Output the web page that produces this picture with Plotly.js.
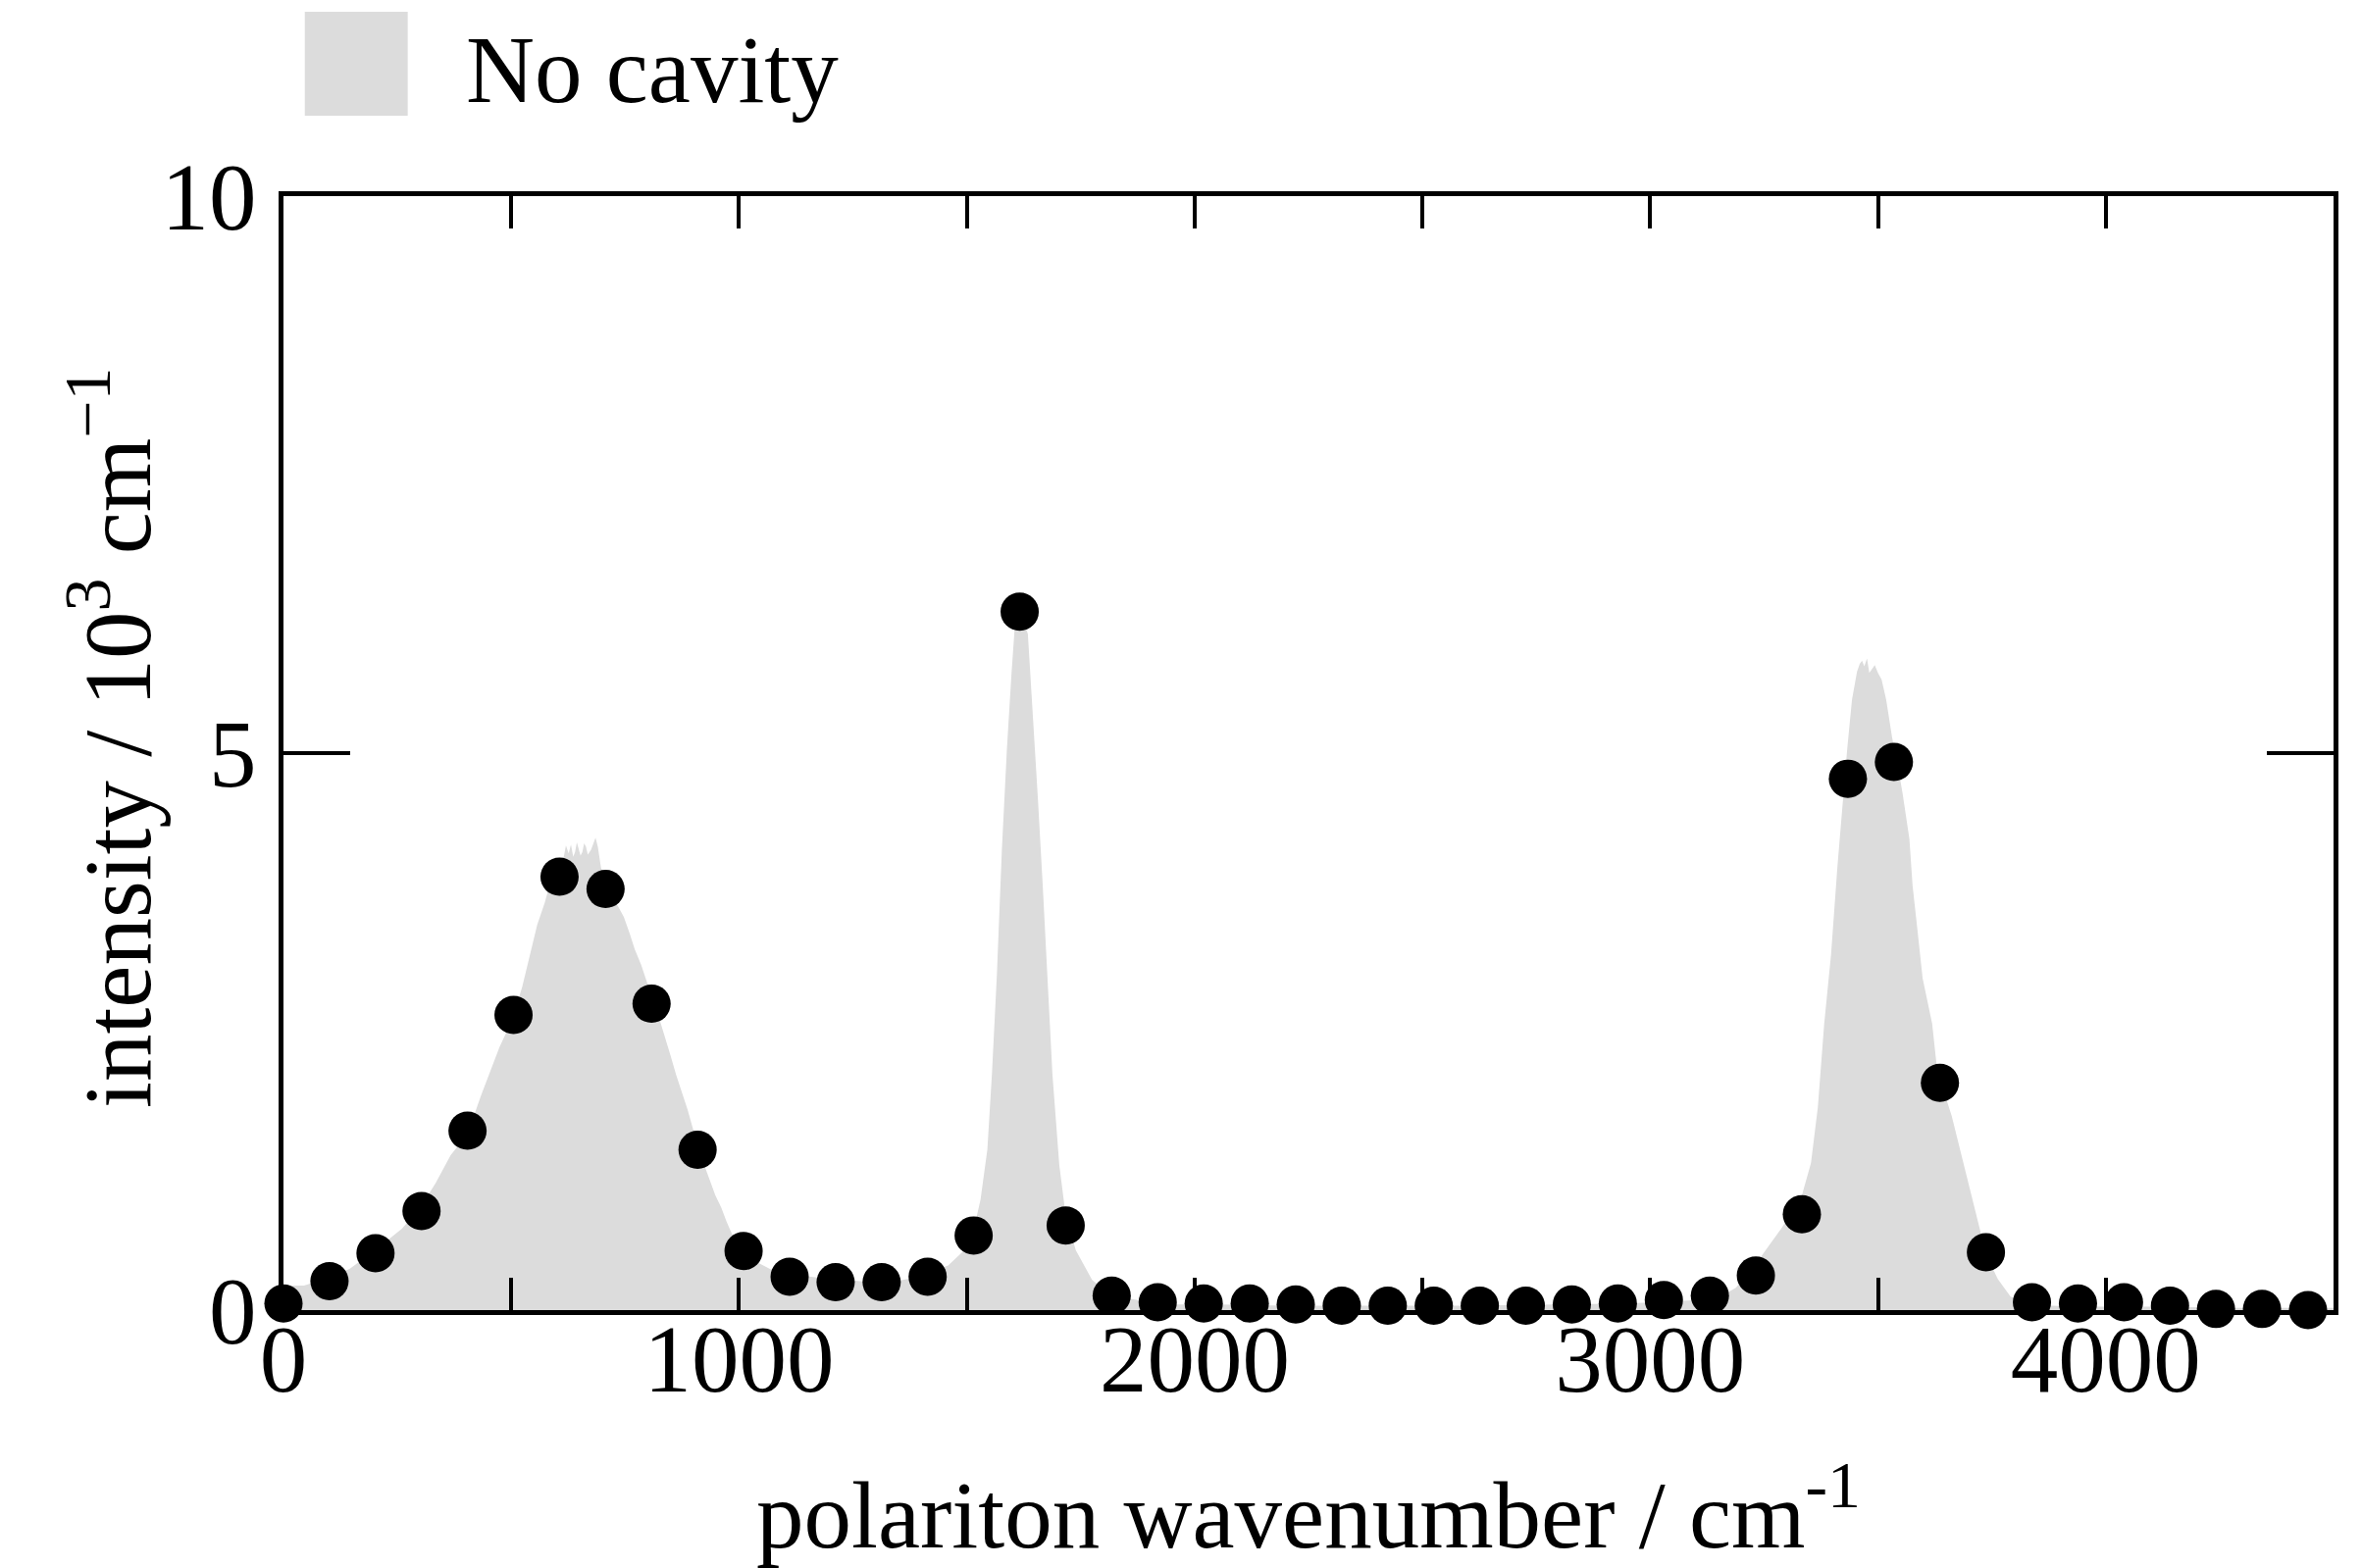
<!DOCTYPE html>
<html>
<head>
<meta charset="utf-8">
<script src="https://cdn.plot.ly/plotly-3.0.1.min.js"></script>
<style>html,body{margin:0;padding:0;background:#fff;}#chart{width:2407px;height:1599px;}</style>
</head>
<body>
<div id="chart"></div>
<script>
// "No cavity" reference spectrum (wavenumber / cm^-1, intensity / 10^3 cm^-1)
var spectrumX = [
  0, 45, 100, 145, 202, 260, 300, 334, 367, 404,
  433, 454, 474, 490, 505, 524, 540, 557, 573, 590,
  600, 606, 612, 620, 626, 631, 636, 640, 644, 648,
  652, 656, 660, 664, 668, 675, 680, 685, 690, 697,
  705, 720, 735, 747, 760, 771, 785, 796, 808, 818,
  828, 838, 850, 862, 875, 887, 898, 909, 922, 936,
  948, 961, 973, 986, 998, 1011, 1044, 1077, 1134, 1176,
  1217, 1266,
  1315, 1387, 1459, 1495, 1515, 1530, 1545, 1555, 1566, 1577,
  1588, 1598, 1605, 1611, 1616, 1622, 1628, 1634, 1645, 1656,
  1667, 1677, 1688, 1703, 1717, 1739, 1775, 1818, 1875, 1947,
  2050, 2200, 2400, 2600, 2800, 2950, 3050, 3100, 3145, 3188,
  3231, 3289, 3333, 3353, 3368, 3382, 3397, 3411, 3422, 3433,
  3443, 3454, 3460, 3465, 3470, 3476, 3481, 3486, 3493, 3500,
  3508, 3518, 3531, 3543, 3554, 3569, 3576, 3587, 3598, 3619,
  3630, 3662, 3687, 3712, 3738, 3763, 3791, 3827, 3880, 3950,
  4100, 4300, 4500
];
var spectrumY = [
  0.22, 0.22, 0.29, 0.37, 0.54, 0.73, 0.92, 1.14, 1.39, 1.58,
  1.92, 2.14, 2.36, 2.50, 2.65, 2.90, 3.18, 3.46, 3.65, 3.90,
  3.95, 4.06, 4.00, 4.17, 4.10, 4.18, 4.07, 4.11, 4.20, 4.14,
  4.08, 4.11, 4.19, 4.16, 4.09, 4.13, 4.18, 4.24, 4.16, 3.97,
  3.88, 3.72, 3.62, 3.53, 3.38, 3.24, 3.10, 2.96, 2.82, 2.71,
  2.58, 2.43, 2.28, 2.11, 1.95, 1.80, 1.64, 1.48, 1.32, 1.17,
  1.03, 0.92, 0.79, 0.67, 0.58, 0.51, 0.42, 0.35, 0.31, 0.29,
  0.28, 0.26,
  0.24, 0.29, 0.40, 0.54, 0.72, 0.99, 1.44, 2.11, 3.01, 4.14,
  5.04, 5.71, 6.12, 6.20, 6.22, 6.18, 6.14, 6.07, 5.35, 4.59,
  3.78, 2.92, 2.11, 1.30, 0.85, 0.54, 0.27, 0.13, 0.09, 0.05,
  0.05, 0.04, 0.04, 0.04, 0.05, 0.06, 0.08, 0.09, 0.10, 0.20,
  0.41, 0.74, 1.03, 1.32, 1.82, 2.57, 3.19, 3.98, 4.56, 5.06,
  5.48, 5.73, 5.80, 5.83, 5.78, 5.85, 5.72, 5.75, 5.79, 5.72,
  5.66, 5.48, 5.14, 4.90, 4.64, 4.23, 3.81, 3.40, 2.98, 2.57,
  2.15, 1.74, 1.32, 0.91, 0.49, 0.28, 0.12, 0.06, 0.04, 0.03,
  0.03, 0.02, 0.02
];

// Cavity (polariton) intensities
var cavityX = [
  0, 101, 202, 303, 404, 505, 606, 707, 808, 909,
  1010, 1111, 1212, 1313, 1414, 1515, 1616, 1717, 1818, 1919,
  2020, 2121, 2222, 2323, 2424, 2525, 2626, 2727, 2828, 2929,
  3030, 3131, 3232, 3333, 3434, 3535, 3636, 3737, 3838, 3939,
  4040, 4141, 4242, 4343, 4444
];
var cavityY = [
  0.06, 0.26, 0.51, 0.89, 1.61, 2.65, 3.89, 3.78, 2.75, 1.44,
  0.53, 0.30, 0.25, 0.25, 0.30, 0.67, 6.27, 0.76, 0.13, 0.07,
  0.06, 0.06, 0.05, 0.04, 0.04, 0.04, 0.04, 0.04, 0.05, 0.06,
  0.09, 0.13, 0.31, 0.86, 4.77, 4.92, 2.04, 0.52, 0.07, 0.06,
  0.07, 0.04, 0.01, 0.01, 0.00
];

var xTickVals = [0, 1000, 2000, 3000, 4000];
var xTickText = ['0', '1000', '2000', '3000', '4000'];
var yTickVals = [0, 5, 10];
var yTickText = ['0', '5', '10'];

var legendLabel = 'No cavity';
var xTitle = 'polariton wavenumber / cm<sup>-1</sup>';
var yTitle = 'intensity / 10<sup>3</sup> cm<sup>\u22121</sup>';
var FONT = '"Liberation Serif", "Times New Roman", Times, serif';

var traces = [
  {
    type: 'scatter', mode: 'lines', name: legendLabel,
    x: spectrumX, y: spectrumY,
    fill: 'tozeroy', fillcolor: '#dcdcdc',
    line: {width: 0, color: '#dcdcdc'},
    showlegend: false, hoverinfo: 'skip'
  },
  {
    type: 'scatter', mode: 'markers', name: 'cavity',
    x: cavityX, y: cavityY,
    marker: {size: 39, color: '#000000'},
    cliponaxis: false, showlegend: false
  }
];

var layout = {
  width: 2407, height: 1599,
  margin: {l: 289, r: 28, t: 200, b: 263, pad: 0},
  paper_bgcolor: '#ffffff', plot_bgcolor: '#ffffff',
  font: {family: FONT, size: 97, color: '#000000'},
  showlegend: false,
  xaxis: {
    range: [0, 4500], fixedrange: true,
    tickmode: 'array', tickvals: xTickVals, ticktext: xTickText,
    ticks: 'inside', ticklen: 33, tickwidth: 4, tickcolor: '#000000',
    minor: {tickmode: 'linear', tick0: 0, dtick: 500, ticks: 'inside', ticklen: 33, tickwidth: 4, tickcolor: '#000000', showgrid: false},
    showline: true, linewidth: 5, linecolor: '#000000', mirror: 'ticks',
    showgrid: false, zeroline: false,
    tickfont: {family: FONT, size: 97, color: '#000000'},
    ticklabelstandoff: -38,
    title: {text: xTitle, font: {family: FONT, size: 97, color: '#000000'}, standoff: 72}
  },
  yaxis: {
    range: [0, 10], fixedrange: true,
    tickmode: 'array', tickvals: yTickVals, ticktext: yTickText,
    ticks: 'inside', ticklen: 68, tickwidth: 4, tickcolor: '#000000',
    showline: true, linewidth: 5, linecolor: '#000000', mirror: 'ticks',
    showgrid: false, zeroline: false,
    tickfont: {family: FONT, size: 97, color: '#000000'},
    ticklabelstandoff: 3
  },
  shapes: [
    {type: 'rect', xref: 'paper', yref: 'paper', x0: 0.0104, x1: 0.0606, y0: 1.0722, y1: 1.1654,
     fillcolor: '#dcdcdc', line: {width: 0}}
  ],
  annotations: [
    {text: legendLabel, xref: 'paper', yref: 'paper', x: 0.088, y: 1.1135, xanchor: 'left', yanchor: 'middle',
     showarrow: false, font: {family: FONT, size: 97, color: '#000000'}},
    {text: yTitle, xref: 'paper', yref: 'paper', x: -0.0847, y: 0.514, xanchor: 'center', yanchor: 'middle',
     textangle: -90, showarrow: false, font: {family: FONT, size: 97, color: '#000000'}}
  ]
};

Plotly.newPlot('chart', traces, layout, {staticPlot: true, displayModeBar: false});
</script>
</body>
</html>
